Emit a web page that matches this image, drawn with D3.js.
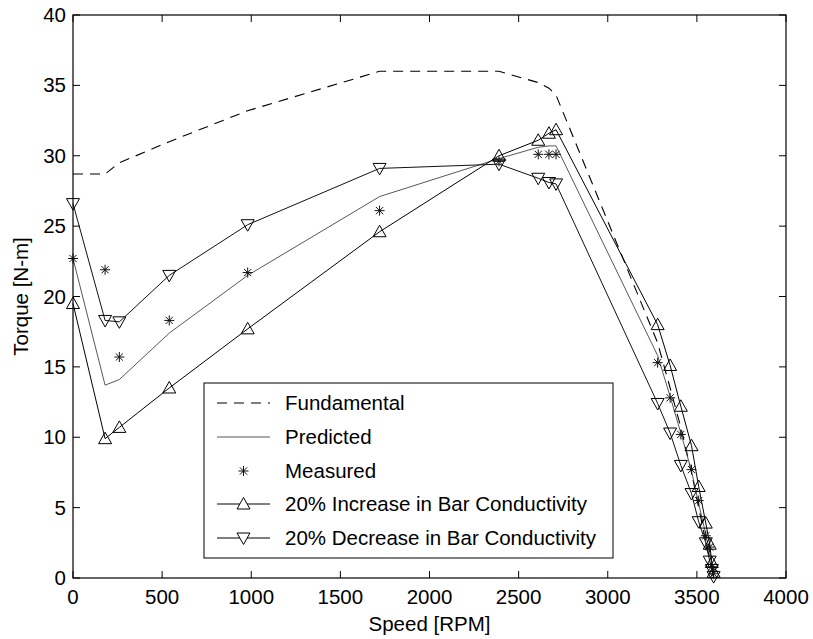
<!DOCTYPE html>
<html>
<head>
<meta charset="utf-8">
<script src="https://cdn.jsdelivr.net/npm/d3@7/dist/d3.min.js"></script>
<style>
  html, body { margin: 0; padding: 0; background: #fff; }
  svg { display: block; font-family: "Liberation Sans", Arial, sans-serif; }
</style>
</head>
<body>
<svg id="chart" width="813" height="639"></svg>
<script>
// ---- data ----
const speed = [0, 180, 260, 540, 980, 1720, 2390, 2610, 2670, 2710, 3280, 3350, 3410, 3470, 3510, 3550, 3572, 3584, 3594];
const fundamental = [28.7, 28.7, 29.5, 31.0, 33.2, 36.0, 36.0, 35.2, 34.8, 34.3, 16.7, 13.5, 10.7, 7.5, 5.0, 2.6, 1.4, 0.8, 0.3];
const predicted = [22.7, 13.7, 14.1, 17.4, 21.5, 27.1, 29.8, 30.6, 30.7, 30.7, 15.8, 12.9, 10.3, 7.6, 5.3, 3.1, 1.8, 0.9, 0.3];
const measured = [22.7, 21.9, 15.7, 18.3, 21.7, 26.1, 29.6, 30.1, 30.1, 30.1, 15.3, 12.8, 10.2, 7.7, 5.5, 3.0, 2.2, 0.8, 0.3];
const increase20 = [19.5, 9.9, 10.7, 13.5, 17.7, 24.6, 30.0, 31.1, 31.6, 31.85, 18.0, 15.1, 12.2, 9.4, 6.5, 3.9, 2.4, 1.1, 0.4];
const decrease20 = [26.6, 18.3, 18.2, 21.5, 25.1, 29.1, 29.4, 28.4, 28.1, 28.0, 12.4, 10.3, 8.0, 6.0, 4.0, 2.5, 1.2, 0.6, 0.1];
const xTicks = [0, 500, 1000, 1500, 2000, 2500, 3000, 3500, 4000];
const yTicks = [0, 5, 10, 15, 20, 25, 30, 35, 40];
const legendLabels = ["Fundamental", "Predicted", "Measured", "20% Increase in Bar Conductivity", "20% Decrease in Bar Conductivity"];

// ---- layout ----
const svg = d3.select("#chart");
const L = 73, T = 15, R = 786, B = 578;
const x = d3.scaleLinear().domain([0, 4000]).range([L, R]);
const y = d3.scaleLinear().domain([0, 40]).range([B, T]);
const fs = 20.5;

const line = vals => d3.line().x((d, i) => x(speed[i])).y(d => y(d))(vals);

// ticks (inward, all four sides)
const tl = 7;
const g = svg.append("g");
g.selectAll(".xt").data(xTicks).join("line")
  .attr("x1", d => x(d)).attr("x2", d => x(d)).attr("y1", B).attr("y2", B - tl)
  .attr("stroke", "#000").attr("stroke-width", 1);
g.selectAll(".xt2").data(xTicks).join("line")
  .attr("x1", d => x(d)).attr("x2", d => x(d)).attr("y1", T).attr("y2", T + tl)
  .attr("stroke", "#000").attr("stroke-width", 1);
g.selectAll(".yt").data(yTicks).join("line")
  .attr("x1", L).attr("x2", L + tl).attr("y1", d => y(d)).attr("y2", d => y(d))
  .attr("stroke", "#000").attr("stroke-width", 1);
g.selectAll(".yt2").data(yTicks).join("line")
  .attr("x1", R).attr("x2", R - tl).attr("y1", d => y(d)).attr("y2", d => y(d))
  .attr("stroke", "#000").attr("stroke-width", 1);

// tick labels
g.selectAll(".xl").data(xTicks).join("text")
  .attr("x", d => x(d)).attr("y", B + 26).attr("text-anchor", "middle")
  .attr("font-size", fs).text(d => d);
g.selectAll(".yl").data(yTicks).join("text")
  .attr("x", L - 7).attr("y", d => y(d) + 7).attr("text-anchor", "end")
  .attr("font-size", fs).text(d => d);

// axis labels
svg.append("text").attr("x", (L + R) / 2).attr("y", 631).attr("text-anchor", "middle")
  .attr("font-size", fs).text("Speed [RPM]");
svg.append("text").attr("transform", `translate(28,${(T + B) / 2}) rotate(-90)`)
  .attr("text-anchor", "middle").attr("font-size", fs).text("Torque [N-m]");

// series lines
svg.append("path").attr("d", line(fundamental)).attr("fill", "none")
  .attr("stroke", "#000").attr("stroke-width", 1.1).attr("stroke-dasharray", "10,7");
svg.append("path").attr("d", line(predicted)).attr("fill", "none")
  .attr("stroke", "#444").attr("stroke-width", 0.9);
svg.append("path").attr("d", line(increase20)).attr("fill", "none")
  .attr("stroke", "#000").attr("stroke-width", 1);
svg.append("path").attr("d", line(decrease20)).attr("fill", "none")
  .attr("stroke", "#111").attr("stroke-width", 1);

// markers
const upTri = "M0,-6.5L6.5,5L-6.5,5Z";
const dnTri = "M0,6.5L6.5,-5L-6.5,-5Z";
const star = "M-5,0L5,0M0,-5L0,5M-3.6,-3.6L3.6,3.6M-3.6,3.6L3.6,-3.6";

svg.append("g").selectAll("path").data(increase20).join("path")
  .attr("transform", (d, i) => `translate(${x(speed[i])},${y(d)})`)
  .attr("d", upTri).attr("fill", "none").attr("stroke", "#000").attr("stroke-width", 1);
svg.append("g").selectAll("path").data(decrease20).join("path")
  .attr("transform", (d, i) => `translate(${x(speed[i])},${y(d)})`)
  .attr("d", dnTri).attr("fill", "none").attr("stroke", "#000").attr("stroke-width", 1);
svg.append("g").selectAll("path").data(measured).join("path")
  .attr("transform", (d, i) => `translate(${x(speed[i])},${y(d)})`)
  .attr("d", star).attr("fill", "none").attr("stroke", "#111").attr("stroke-width", 1);

// frame
svg.append("rect").attr("x", L).attr("y", T).attr("width", R - L).attr("height", B - T)
  .attr("fill", "none").attr("stroke", "#000").attr("stroke-width", 1.2);

// legend
const lg = svg.append("g");
const lx0 = 204, ly0 = 383, lx1 = 613, ly1 = 558;
lg.append("rect").attr("x", lx0).attr("y", ly0).attr("width", lx1 - lx0).attr("height", ly1 - ly0)
  .attr("fill", "#fff").attr("stroke", "#000").attr("stroke-width", 1);
const rowY = [403, 437, 471, 504, 538];
const sx0 = 217, sx1 = 270, tx = 285;
legendLabels.forEach((lab, i) => {
  const yy = rowY[i];
  if (i === 0) {
    lg.append("line").attr("x1", sx0).attr("x2", sx1).attr("y1", yy).attr("y2", yy)
      .attr("stroke", "#000").attr("stroke-width", 1.1).attr("stroke-dasharray", "10,7");
  } else if (i === 1) {
    lg.append("line").attr("x1", sx0).attr("x2", sx1).attr("y1", yy).attr("y2", yy)
      .attr("stroke", "#444").attr("stroke-width", 0.9);
  } else if (i === 2) {
    lg.append("path").attr("transform", `translate(${(sx0 + sx1) / 2},${yy})`)
      .attr("d", star).attr("fill", "none").attr("stroke", "#111").attr("stroke-width", 1);
  } else {
    lg.append("line").attr("x1", sx0).attr("x2", sx1).attr("y1", yy).attr("y2", yy)
      .attr("stroke", "#000").attr("stroke-width", 1);
    lg.append("path").attr("transform", `translate(${(sx0 + sx1) / 2},${yy})`)
      .attr("d", i === 3 ? upTri : dnTri).attr("fill", "#fff").attr("stroke", "#000").attr("stroke-width", 1);
  }
  lg.append("text").attr("x", tx).attr("y", yy + 7).attr("font-size", fs).text(lab);
});
</script>
</body>
</html>
